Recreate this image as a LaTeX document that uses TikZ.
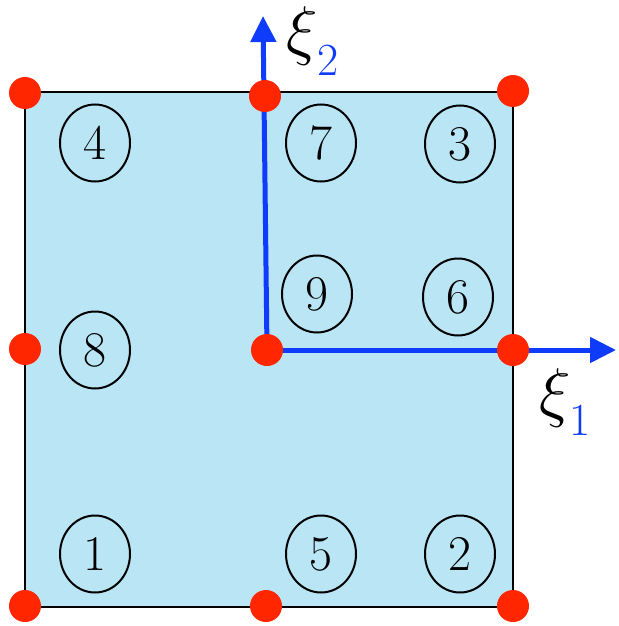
\documentclass[tikz,border=0pt]{standalone}
\usepackage{fix-cm}
\usetikzlibrary{arrows.meta,shapes.geometric}
\definecolor{panel}{RGB}{185,229,245}
\definecolor{dotred}{RGB}{255,38,0}
\definecolor{axblue}{RGB}{15,60,250}
\tikzset{
  lbl/.style={draw=black,line width=2pt,ellipse,minimum width=70pt,minimum height=77pt,inner sep=0pt,font=\fontsize{50}{54}\selectfont},
  nodedot/.style={circle,fill=dotred,minimum size=32pt,inner sep=0pt},
  axis/.style={draw=axblue,line width=5pt,-{Triangle[length=26pt,width=25pt]}},
  axlabel/.style={inner sep=0pt,font=\fontsize{66}{70}\selectfont},
  sublabel/.style={inner sep=0pt,text=axblue,font=\fontsize{46}{50}\selectfont},
}
\begin{document}
\begin{tikzpicture}[x=1pt,y=-1pt]
\useasboundingbox (0,0) rectangle (618,626);
\fill[panel] (25,92) rectangle (513,607);
\draw[line width=1.8pt] (25,92) rectangle (513,607);
% local numbering
\node[lbl] (n4) at (95,143) {4};
\node[lbl] (n7) at (321,143) {7};
\node[lbl] (n3) at (460,144) {3};
\node[lbl] (n9) at (317,294) {9};
\node[lbl] (n6) at (458,297) {6};
\node[lbl] (n8) at (95,350) {8};
\node[lbl] (n1) at (95,554) {1};
\node[lbl] (n5) at (321,554) {5};
\node[lbl] (n2) at (460,554) {2};
% axes
\coordinate (c) at (267,350);
\coordinate (t1) at (616,350);
\coordinate (t2) at (263,16);
\draw[axis] (c) -- (t1);
\draw[axis] (c) -- (t2);
% dots
\node[nodedot] (d1) at (25,606) {};
\node[nodedot] (d5) at (266,606) {};
\node[nodedot] (d2) at (513,606) {};
\node[nodedot] (d8) at (25,349) {};
\node[nodedot] (d9) at (267,350) {};
\node[nodedot] (d6) at (513,350) {};
\node[nodedot] (d4) at (25,93) {};
\node[nodedot] (d7) at (265,96) {};
\node[nodedot] (d3) at (513,91) {};
% labels
\node[axlabel] (x2) at (302,36) {$\xi$};
\node[sublabel] (s2) at (328,60) {2};
\node[axlabel] (x1) at (555,398) {$\xi$};
\node[sublabel] (s1) at (580,420) {1};
\end{tikzpicture}
\end{document}
